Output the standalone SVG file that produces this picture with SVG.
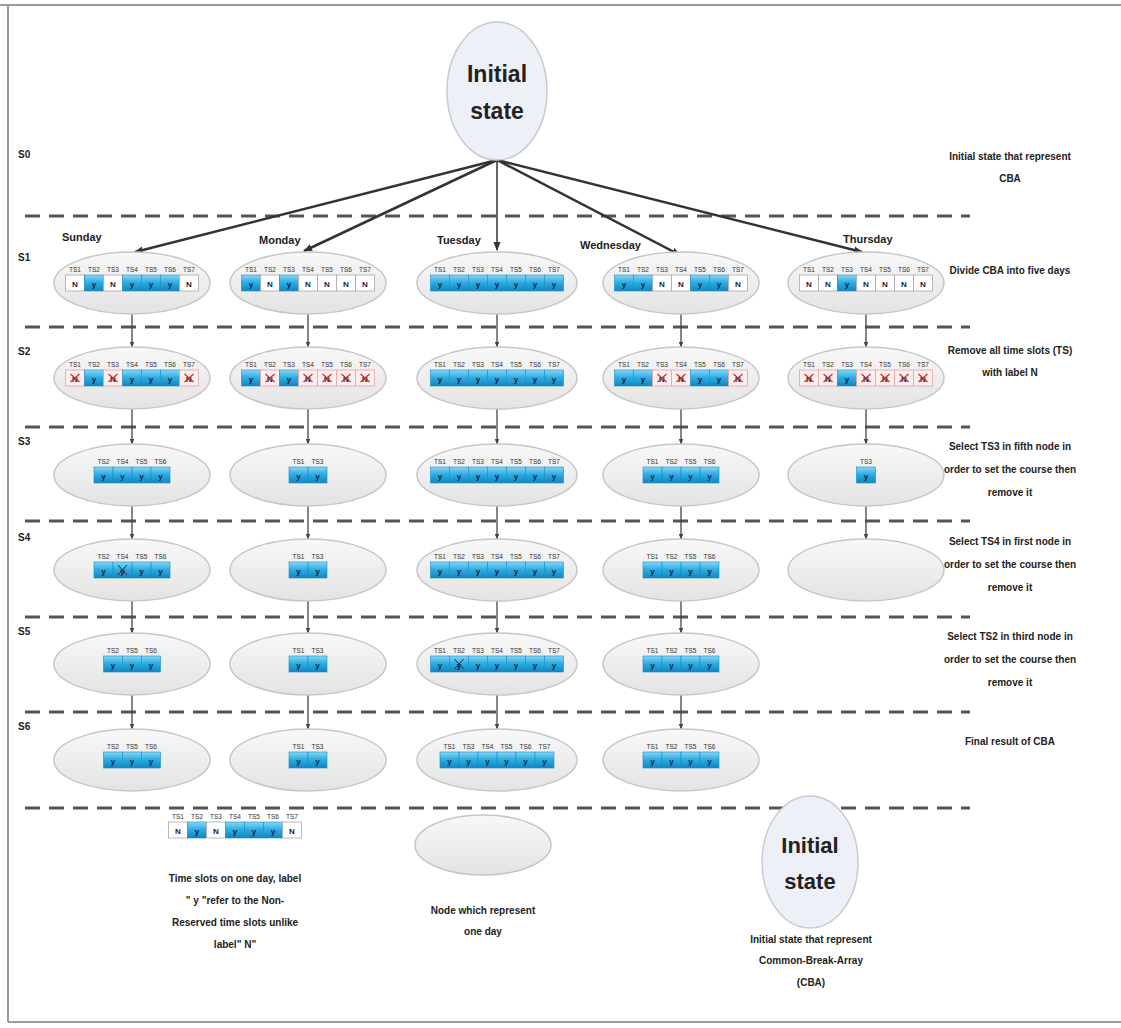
<svg xmlns="http://www.w3.org/2000/svg" xmlns:xlink="http://www.w3.org/1999/xlink" width="1121" height="1028" viewBox="0 0 1121 1028">
<style>
.hd{font-family:"Liberation Sans",sans-serif;font-size:6.5px;fill:#333;text-anchor:middle}
.cv{font-family:"Liberation Sans",sans-serif;font-size:8px;font-weight:700;fill:#13243c;text-anchor:middle}
.lbl{font-family:"Liberation Sans",sans-serif;font-size:10px;font-weight:700;fill:#222;text-anchor:middle}
.sl{font-family:"Liberation Sans",sans-serif;font-size:10px;font-weight:700;fill:#222}
.day{font-family:"Liberation Sans",sans-serif;font-size:11px;font-weight:700;fill:#222}
.big{font-family:"Liberation Sans",sans-serif;font-size:23px;font-weight:700;fill:#222;text-anchor:middle}
.node{fill:url(#ng);stroke:#c6c6c6;stroke-width:1.5}
.init{fill:#edf0f6;stroke:#c5cad3;stroke-width:1.5}
.dash{stroke:#555;stroke-width:3;stroke-dasharray:15 9;fill:none}
.main{stroke:#333;stroke-width:2.5;fill:none}
.vc{stroke:#444;stroke-width:1.3;fill:none}
</style>
<defs>
<linearGradient id="ng" x1="0" y1="0" x2="0" y2="1"><stop offset="0" stop-color="#f8f8f8"/><stop offset="1" stop-color="#e3e3e3"/></linearGradient>
<linearGradient id="blue" x1="0" y1="0" x2="0" y2="1"><stop offset="0" stop-color="#8ad6f5"/><stop offset="0.45" stop-color="#2eaee4"/><stop offset="1" stop-color="#0f86c2"/></linearGradient>
<marker id="ah" viewBox="0 0 10 10" refX="9" refY="5" markerWidth="9" markerHeight="9" markerUnits="userSpaceOnUse" orient="auto"><path d="M0,1 L10,5 L0,9 z" fill="#333"/></marker>
<marker id="as" viewBox="0 0 10 10" refX="9" refY="5" markerWidth="6" markerHeight="6" markerUnits="userSpaceOnUse" orient="auto"><path d="M0,1 L10,5 L0,9 z" fill="#444"/></marker>
<g id="cy"><rect width="19" height="16" fill="url(#blue)" stroke="#1a8cc4" stroke-width="0.6"/><text x="9.5" y="11.5" class="cv">y</text></g>
<g id="cn"><rect width="19" height="16" fill="#fff" stroke="#a9a9a9" stroke-width="0.8"/><text x="9.5" y="11.5" class="cv">N</text></g>
<g id="cx"><rect width="19" height="16" fill="#fbeeee" stroke="#e2a4a4" stroke-width="0.8"/><text x="9.5" y="11.5" class="cv">N</text><path d="M5 4 L14 12 M14 4 L5 12" stroke="#c83232" stroke-width="1.3"/></g>
<g id="cyx"><use xlink:href="#cy"/><path d="M5 3 L14 13 M14 3 L5 13" stroke="#2a2a2a" stroke-width="1"/></g>
</defs>

<rect width="1121" height="1028" fill="#fff"/>
<path d="M0 5 H1121 M8 5 V1022 M8 1022 H1121" stroke="#9a9a9a" stroke-width="2" fill="none"/>

<g id="dividers">
<path class="dash" d="M25 216 H970 M25 327 H970 M25 427 H970 M25 521 H970 M25 617 H970 M25 712 H970 M25 808 H970"/>
</g>

<g id="step-labels">
<text class="sl" x="18" y="158">S0</text>
<text class="sl" x="18" y="261">S1</text>
<text class="sl" x="18" y="355">S2</text>
<text class="sl" x="18" y="445">S3</text>
<text class="sl" x="18" y="541">S4</text>
<text class="sl" x="18" y="635">S5</text>
<text class="sl" x="18" y="730">S6</text>
</g>

<g id="notes">
<text class="lbl" x="1010" y="160">Initial state that represent</text>
<text class="lbl" x="1010" y="182">CBA</text>
<text class="lbl" x="1010" y="274">Divide CBA into  five days</text>
<text class="lbl" x="1010" y="354">Remove all time slots (TS)</text>
<text class="lbl" x="1010" y="376">with label N</text>
<text class="lbl" x="1010" y="450">Select  TS3 in  fifth node in</text>
<text class="lbl" x="1010" y="473">order to set the course then</text>
<text class="lbl" x="1010" y="496">remove it</text>
<text class="lbl" x="1010" y="545">Select  TS4 in  first node in</text>
<text class="lbl" x="1010" y="568">order to set the course then</text>
<text class="lbl" x="1010" y="591">remove it</text>
<text class="lbl" x="1010" y="640">Select  TS2 in  third node in</text>
<text class="lbl" x="1010" y="663">order to set the course then</text>
<text class="lbl" x="1010" y="686">remove it</text>
<text class="lbl" x="1010" y="745">Final result of CBA</text>
</g>

<g id="connectors">
<line class="main" x1="497" y1="160" x2="135" y2="252" marker-end="url(#ah)"/>
<line class="main" x1="497" y1="160" x2="304" y2="251" marker-end="url(#ah)"/>
<line class="main" x1="497" y1="160" x2="497" y2="250" marker-end="url(#ah)" style="stroke-width:1.5"/>
<line class="main" x1="497" y1="160" x2="680" y2="255" marker-end="url(#ah)"/>
<line class="main" x1="497" y1="160" x2="862" y2="252" marker-end="url(#ah)"/>
<path class="vc" marker-end="url(#as)" d="M132 314 V347"/>
<path class="vc" marker-end="url(#as)" d="M132 409 V444"/>
<path class="vc" marker-end="url(#as)" d="M132 506 V539"/>
<path class="vc" marker-end="url(#as)" d="M132 601 V633"/>
<path class="vc" marker-end="url(#as)" d="M132 695 V729"/>
<path class="vc" marker-end="url(#as)" d="M308 314 V347"/>
<path class="vc" marker-end="url(#as)" d="M308 409 V444"/>
<path class="vc" marker-end="url(#as)" d="M308 506 V539"/>
<path class="vc" marker-end="url(#as)" d="M308 601 V633"/>
<path class="vc" marker-end="url(#as)" d="M308 695 V729"/>
<path class="vc" marker-end="url(#as)" d="M497 314 V347"/>
<path class="vc" marker-end="url(#as)" d="M497 409 V444"/>
<path class="vc" marker-end="url(#as)" d="M497 506 V539"/>
<path class="vc" marker-end="url(#as)" d="M497 601 V633"/>
<path class="vc" marker-end="url(#as)" d="M497 695 V729"/>
<path class="vc" marker-end="url(#as)" d="M681 314 V347"/>
<path class="vc" marker-end="url(#as)" d="M681 409 V444"/>
<path class="vc" marker-end="url(#as)" d="M681 506 V539"/>
<path class="vc" marker-end="url(#as)" d="M681 601 V633"/>
<path class="vc" marker-end="url(#as)" d="M681 695 V729"/>
<path class="vc" marker-end="url(#as)" d="M866 314 V347"/>
<path class="vc" marker-end="url(#as)" d="M866 409 V444"/>
<path class="vc" marker-end="url(#as)" d="M866 506 V539"/>
</g>

<g id="initial-state">
<ellipse class="init" cx="497" cy="91" rx="50" ry="69"/>
<text class="big" x="497" y="82">Initial</text>
<text class="big" x="497" y="119">state</text>
</g>

<g id="day-labels">
<text class="day" x="62" y="241">Sunday</text>
<text class="day" x="259" y="244">Monday</text>
<text class="day" x="437" y="244">Tuesday</text>
<text class="day" x="580" y="249">Wednesday</text>
<text class="day" x="843" y="243">Thursday</text>
</g>

<!-- S1 -->
<g id="sun-s1"><ellipse class="node" cx="132" cy="283" rx="78" ry="31"/>
<g transform="translate(65.5,275)"><text class="hd" y="-3"><tspan x="9.5">TS1</tspan><tspan x="28.5">TS2</tspan><tspan x="47.5">TS3</tspan><tspan x="66.5">TS4</tspan><tspan x="85.5">TS5</tspan><tspan x="104.5">TS6</tspan><tspan x="123.5">TS7</tspan></text>
<use xlink:href="#cn"/><use xlink:href="#cy" x="19"/><use xlink:href="#cn" x="38"/><use xlink:href="#cy" x="57"/><use xlink:href="#cy" x="76"/><use xlink:href="#cy" x="95"/><use xlink:href="#cn" x="114"/></g></g>
<g id="mon-s1"><ellipse class="node" cx="308" cy="283" rx="78" ry="31"/>
<g transform="translate(241.5,275)"><text class="hd" y="-3"><tspan x="9.5">TS1</tspan><tspan x="28.5">TS2</tspan><tspan x="47.5">TS3</tspan><tspan x="66.5">TS4</tspan><tspan x="85.5">TS5</tspan><tspan x="104.5">TS6</tspan><tspan x="123.5">TS7</tspan></text>
<use xlink:href="#cy"/><use xlink:href="#cn" x="19"/><use xlink:href="#cy" x="38"/><use xlink:href="#cn" x="57"/><use xlink:href="#cn" x="76"/><use xlink:href="#cn" x="95"/><use xlink:href="#cn" x="114"/></g></g>
<g id="tue-s1"><ellipse class="node" cx="497" cy="283" rx="80" ry="31"/>
<g transform="translate(430.5,275)"><text class="hd" y="-3"><tspan x="9.5">TS1</tspan><tspan x="28.5">TS2</tspan><tspan x="47.5">TS3</tspan><tspan x="66.5">TS4</tspan><tspan x="85.5">TS5</tspan><tspan x="104.5">TS6</tspan><tspan x="123.5">TS7</tspan></text>
<use xlink:href="#cy"/><use xlink:href="#cy" x="19"/><use xlink:href="#cy" x="38"/><use xlink:href="#cy" x="57"/><use xlink:href="#cy" x="76"/><use xlink:href="#cy" x="95"/><use xlink:href="#cy" x="114"/></g></g>
<g id="wed-s1"><ellipse class="node" cx="681" cy="283" rx="78" ry="31"/>
<g transform="translate(614.5,275)"><text class="hd" y="-3"><tspan x="9.5">TS1</tspan><tspan x="28.5">TS2</tspan><tspan x="47.5">TS3</tspan><tspan x="66.5">TS4</tspan><tspan x="85.5">TS5</tspan><tspan x="104.5">TS6</tspan><tspan x="123.5">TS7</tspan></text>
<use xlink:href="#cy"/><use xlink:href="#cy" x="19"/><use xlink:href="#cn" x="38"/><use xlink:href="#cn" x="57"/><use xlink:href="#cy" x="76"/><use xlink:href="#cy" x="95"/><use xlink:href="#cn" x="114"/></g></g>
<g id="thu-s1"><ellipse class="node" cx="866" cy="283" rx="78" ry="31"/>
<g transform="translate(799.5,275)"><text class="hd" y="-3"><tspan x="9.5">TS1</tspan><tspan x="28.5">TS2</tspan><tspan x="47.5">TS3</tspan><tspan x="66.5">TS4</tspan><tspan x="85.5">TS5</tspan><tspan x="104.5">TS6</tspan><tspan x="123.5">TS7</tspan></text>
<use xlink:href="#cn"/><use xlink:href="#cn" x="19"/><use xlink:href="#cy" x="38"/><use xlink:href="#cn" x="57"/><use xlink:href="#cn" x="76"/><use xlink:href="#cn" x="95"/><use xlink:href="#cn" x="114"/></g></g>

<!-- S2 -->
<g id="sun-s2"><ellipse class="node" cx="132" cy="378" rx="78" ry="31"/>
<g transform="translate(65.5,370)"><text class="hd" y="-3"><tspan x="9.5">TS1</tspan><tspan x="28.5">TS2</tspan><tspan x="47.5">TS3</tspan><tspan x="66.5">TS4</tspan><tspan x="85.5">TS5</tspan><tspan x="104.5">TS6</tspan><tspan x="123.5">TS7</tspan></text>
<use xlink:href="#cx"/><use xlink:href="#cy" x="19"/><use xlink:href="#cx" x="38"/><use xlink:href="#cy" x="57"/><use xlink:href="#cy" x="76"/><use xlink:href="#cy" x="95"/><use xlink:href="#cx" x="114"/></g></g>
<g id="mon-s2"><ellipse class="node" cx="308" cy="378" rx="78" ry="31"/>
<g transform="translate(241.5,370)"><text class="hd" y="-3"><tspan x="9.5">TS1</tspan><tspan x="28.5">TS2</tspan><tspan x="47.5">TS3</tspan><tspan x="66.5">TS4</tspan><tspan x="85.5">TS5</tspan><tspan x="104.5">TS6</tspan><tspan x="123.5">TS7</tspan></text>
<use xlink:href="#cy"/><use xlink:href="#cx" x="19"/><use xlink:href="#cy" x="38"/><use xlink:href="#cx" x="57"/><use xlink:href="#cx" x="76"/><use xlink:href="#cx" x="95"/><use xlink:href="#cx" x="114"/></g></g>
<g id="tue-s2"><ellipse class="node" cx="497" cy="378" rx="80" ry="31"/>
<g transform="translate(430.5,370)"><text class="hd" y="-3"><tspan x="9.5">TS1</tspan><tspan x="28.5">TS2</tspan><tspan x="47.5">TS3</tspan><tspan x="66.5">TS4</tspan><tspan x="85.5">TS5</tspan><tspan x="104.5">TS6</tspan><tspan x="123.5">TS7</tspan></text>
<use xlink:href="#cy"/><use xlink:href="#cy" x="19"/><use xlink:href="#cy" x="38"/><use xlink:href="#cy" x="57"/><use xlink:href="#cy" x="76"/><use xlink:href="#cy" x="95"/><use xlink:href="#cy" x="114"/></g></g>
<g id="wed-s2"><ellipse class="node" cx="681" cy="378" rx="78" ry="31"/>
<g transform="translate(614.5,370)"><text class="hd" y="-3"><tspan x="9.5">TS1</tspan><tspan x="28.5">TS2</tspan><tspan x="47.5">TS3</tspan><tspan x="66.5">TS4</tspan><tspan x="85.5">TS5</tspan><tspan x="104.5">TS6</tspan><tspan x="123.5">TS7</tspan></text>
<use xlink:href="#cy"/><use xlink:href="#cy" x="19"/><use xlink:href="#cx" x="38"/><use xlink:href="#cx" x="57"/><use xlink:href="#cy" x="76"/><use xlink:href="#cy" x="95"/><use xlink:href="#cx" x="114"/></g></g>
<g id="thu-s2"><ellipse class="node" cx="866" cy="378" rx="78" ry="31"/>
<g transform="translate(799.5,370)"><text class="hd" y="-3"><tspan x="9.5">TS1</tspan><tspan x="28.5">TS2</tspan><tspan x="47.5">TS3</tspan><tspan x="66.5">TS4</tspan><tspan x="85.5">TS5</tspan><tspan x="104.5">TS6</tspan><tspan x="123.5">TS7</tspan></text>
<use xlink:href="#cx"/><use xlink:href="#cx" x="19"/><use xlink:href="#cy" x="38"/><use xlink:href="#cx" x="57"/><use xlink:href="#cx" x="76"/><use xlink:href="#cx" x="95"/><use xlink:href="#cx" x="114"/></g></g>

<!-- S3 -->
<g id="sun-s3"><ellipse class="node" cx="132" cy="475" rx="78" ry="31"/>
<g transform="translate(94,467)"><text class="hd" y="-3"><tspan x="9.5">TS2</tspan><tspan x="28.5">TS4</tspan><tspan x="47.5">TS5</tspan><tspan x="66.5">TS6</tspan></text>
<use xlink:href="#cy"/><use xlink:href="#cy" x="19"/><use xlink:href="#cy" x="38"/><use xlink:href="#cy" x="57"/></g></g>
<g id="mon-s3"><ellipse class="node" cx="308" cy="475" rx="78" ry="31"/>
<g transform="translate(289,467)"><text class="hd" y="-3"><tspan x="9.5">TS1</tspan><tspan x="28.5">TS3</tspan></text>
<use xlink:href="#cy"/><use xlink:href="#cy" x="19"/></g></g>
<g id="tue-s3"><ellipse class="node" cx="497" cy="475" rx="80" ry="31"/>
<g transform="translate(430.5,467)"><text class="hd" y="-3"><tspan x="9.5">TS1</tspan><tspan x="28.5">TS2</tspan><tspan x="47.5">TS3</tspan><tspan x="66.5">TS4</tspan><tspan x="85.5">TS5</tspan><tspan x="104.5">TS6</tspan><tspan x="123.5">TS7</tspan></text>
<use xlink:href="#cy"/><use xlink:href="#cy" x="19"/><use xlink:href="#cy" x="38"/><use xlink:href="#cy" x="57"/><use xlink:href="#cy" x="76"/><use xlink:href="#cy" x="95"/><use xlink:href="#cy" x="114"/></g></g>
<g id="wed-s3"><ellipse class="node" cx="681" cy="475" rx="78" ry="31"/>
<g transform="translate(643,467)"><text class="hd" y="-3"><tspan x="9.5">TS1</tspan><tspan x="28.5">TS2</tspan><tspan x="47.5">TS5</tspan><tspan x="66.5">TS6</tspan></text>
<use xlink:href="#cy"/><use xlink:href="#cy" x="19"/><use xlink:href="#cy" x="38"/><use xlink:href="#cy" x="57"/></g></g>
<g id="thu-s3"><ellipse class="node" cx="866" cy="475" rx="78" ry="31"/>
<g transform="translate(856.5,467)"><text class="hd" y="-3"><tspan x="9.5">TS3</tspan></text>
<use xlink:href="#cy"/></g></g>

<!-- S4 -->
<g id="sun-s4"><ellipse class="node" cx="132" cy="570" rx="78" ry="31"/>
<g transform="translate(94,562)"><text class="hd" y="-3"><tspan x="9.5">TS2</tspan><tspan x="28.5">TS4</tspan><tspan x="47.5">TS5</tspan><tspan x="66.5">TS6</tspan></text>
<use xlink:href="#cy"/><use xlink:href="#cyx" x="19"/><use xlink:href="#cy" x="38"/><use xlink:href="#cy" x="57"/></g></g>
<g id="mon-s4"><ellipse class="node" cx="308" cy="570" rx="78" ry="31"/>
<g transform="translate(289,562)"><text class="hd" y="-3"><tspan x="9.5">TS1</tspan><tspan x="28.5">TS3</tspan></text>
<use xlink:href="#cy"/><use xlink:href="#cy" x="19"/></g></g>
<g id="tue-s4"><ellipse class="node" cx="497" cy="570" rx="80" ry="31"/>
<g transform="translate(430.5,562)"><text class="hd" y="-3"><tspan x="9.5">TS1</tspan><tspan x="28.5">TS2</tspan><tspan x="47.5">TS3</tspan><tspan x="66.5">TS4</tspan><tspan x="85.5">TS5</tspan><tspan x="104.5">TS6</tspan><tspan x="123.5">TS7</tspan></text>
<use xlink:href="#cy"/><use xlink:href="#cy" x="19"/><use xlink:href="#cy" x="38"/><use xlink:href="#cy" x="57"/><use xlink:href="#cy" x="76"/><use xlink:href="#cy" x="95"/><use xlink:href="#cy" x="114"/></g></g>
<g id="wed-s4"><ellipse class="node" cx="681" cy="570" rx="78" ry="31"/>
<g transform="translate(643,562)"><text class="hd" y="-3"><tspan x="9.5">TS1</tspan><tspan x="28.5">TS2</tspan><tspan x="47.5">TS5</tspan><tspan x="66.5">TS6</tspan></text>
<use xlink:href="#cy"/><use xlink:href="#cy" x="19"/><use xlink:href="#cy" x="38"/><use xlink:href="#cy" x="57"/></g></g>
<g id="thu-s4"><ellipse class="node" cx="866" cy="570" rx="78" ry="31"/></g>

<!-- S5 -->
<g id="sun-s5"><ellipse class="node" cx="132" cy="664" rx="78" ry="31"/>
<g transform="translate(103.5,656)"><text class="hd" y="-3"><tspan x="9.5">TS2</tspan><tspan x="28.5">TS5</tspan><tspan x="47.5">TS6</tspan></text>
<use xlink:href="#cy"/><use xlink:href="#cy" x="19"/><use xlink:href="#cy" x="38"/></g></g>
<g id="mon-s5"><ellipse class="node" cx="308" cy="664" rx="78" ry="31"/>
<g transform="translate(289,656)"><text class="hd" y="-3"><tspan x="9.5">TS1</tspan><tspan x="28.5">TS3</tspan></text>
<use xlink:href="#cy"/><use xlink:href="#cy" x="19"/></g></g>
<g id="tue-s5"><ellipse class="node" cx="497" cy="664" rx="80" ry="31"/>
<g transform="translate(430.5,656)"><text class="hd" y="-3"><tspan x="9.5">TS1</tspan><tspan x="28.5">TS2</tspan><tspan x="47.5">TS3</tspan><tspan x="66.5">TS4</tspan><tspan x="85.5">TS5</tspan><tspan x="104.5">TS6</tspan><tspan x="123.5">TS7</tspan></text>
<use xlink:href="#cy"/><use xlink:href="#cyx" x="19"/><use xlink:href="#cy" x="38"/><use xlink:href="#cy" x="57"/><use xlink:href="#cy" x="76"/><use xlink:href="#cy" x="95"/><use xlink:href="#cy" x="114"/></g></g>
<g id="wed-s5"><ellipse class="node" cx="681" cy="664" rx="78" ry="31"/>
<g transform="translate(643,656)"><text class="hd" y="-3"><tspan x="9.5">TS1</tspan><tspan x="28.5">TS2</tspan><tspan x="47.5">TS5</tspan><tspan x="66.5">TS6</tspan></text>
<use xlink:href="#cy"/><use xlink:href="#cy" x="19"/><use xlink:href="#cy" x="38"/><use xlink:href="#cy" x="57"/></g></g>

<!-- S6 -->
<g id="sun-s6"><ellipse class="node" cx="132" cy="760" rx="78" ry="31"/>
<g transform="translate(103.5,752)"><text class="hd" y="-3"><tspan x="9.5">TS2</tspan><tspan x="28.5">TS5</tspan><tspan x="47.5">TS6</tspan></text>
<use xlink:href="#cy"/><use xlink:href="#cy" x="19"/><use xlink:href="#cy" x="38"/></g></g>
<g id="mon-s6"><ellipse class="node" cx="308" cy="760" rx="78" ry="31"/>
<g transform="translate(289,752)"><text class="hd" y="-3"><tspan x="9.5">TS1</tspan><tspan x="28.5">TS3</tspan></text>
<use xlink:href="#cy"/><use xlink:href="#cy" x="19"/></g></g>
<g id="tue-s6"><ellipse class="node" cx="497" cy="760" rx="80" ry="31"/>
<g transform="translate(440,752)"><text class="hd" y="-3"><tspan x="9.5">TS1</tspan><tspan x="28.5">TS3</tspan><tspan x="47.5">TS4</tspan><tspan x="66.5">TS5</tspan><tspan x="85.5">TS6</tspan><tspan x="104.5">TS7</tspan></text>
<use xlink:href="#cy"/><use xlink:href="#cy" x="19"/><use xlink:href="#cy" x="38"/><use xlink:href="#cy" x="57"/><use xlink:href="#cy" x="76"/><use xlink:href="#cy" x="95"/></g></g>
<g id="wed-s6"><ellipse class="node" cx="681" cy="760" rx="78" ry="31"/>
<g transform="translate(643,752)"><text class="hd" y="-3"><tspan x="9.5">TS1</tspan><tspan x="28.5">TS2</tspan><tspan x="47.5">TS5</tspan><tspan x="66.5">TS6</tspan></text>
<use xlink:href="#cy"/><use xlink:href="#cy" x="19"/><use xlink:href="#cy" x="38"/><use xlink:href="#cy" x="57"/></g></g>

<!-- Legend -->
<g id="legend-slots">
<g transform="translate(168.5,822)"><text class="hd" y="-3"><tspan x="9.5">TS1</tspan><tspan x="28.5">TS2</tspan><tspan x="47.5">TS3</tspan><tspan x="66.5">TS4</tspan><tspan x="85.5">TS5</tspan><tspan x="104.5">TS6</tspan><tspan x="123.5">TS7</tspan></text>
<use xlink:href="#cn"/><use xlink:href="#cy" x="19"/><use xlink:href="#cn" x="38"/><use xlink:href="#cy" x="57"/><use xlink:href="#cy" x="76"/><use xlink:href="#cy" x="95"/><use xlink:href="#cn" x="114"/></g>
<text class="lbl" x="235" y="882">Time slots on one day, label</text>
<text class="lbl" x="235" y="904">" y "refer to the Non-</text>
<text class="lbl" x="235" y="926">Reserved time slots  unlike</text>
<text class="lbl" x="235" y="948">label" N"</text>
</g>
<g id="legend-node">
<ellipse class="node" cx="483" cy="845" rx="68" ry="30"/>
<text class="lbl" x="483" y="914">Node which represent</text>
<text class="lbl" x="483" y="935">one day</text>
</g>
<g id="legend-initial">
<ellipse class="init" cx="810" cy="862" rx="48" ry="66"/>
<text class="big" x="810" y="853" style="font-size:22px">Initial</text>
<text class="big" x="810" y="889" style="font-size:22px">state</text>
<text class="lbl" x="811" y="943">Initial state that represent</text>
<text class="lbl" x="811" y="964">Common-Break-Array</text>
<text class="lbl" x="811" y="986">(CBA)</text>
</g>
</svg>
